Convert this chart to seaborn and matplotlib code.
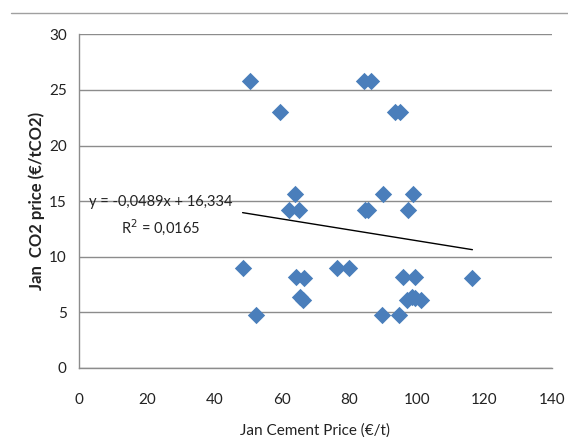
import numpy as np
import pandas as pd
import matplotlib.pyplot as plt
import matplotlib.lines as mlines
import seaborn as sns

# Datos
cement_price = [50.6, 59.4, 84.4, 86.5, 93.7, 95.0,
                64.0, 62.2, 65.2, 90.0, 98.8, 84.7, 85.7, 97.3,
                48.4, 76.5, 80.0, 64.3, 66.7, 95.9, 99.4, 116.5,
                65.4, 66.2, 52.3, 89.6, 94.6, 97.2, 98.5, 99.4, 101.2]
co2_price = [25.8, 23.0, 25.8, 25.8, 23.0, 23.0,
             15.6, 14.2, 14.2, 15.6, 15.6, 14.2, 14.2, 14.2,
             9.0, 9.0, 9.0, 8.2, 8.1, 8.2, 8.2, 8.1,
             6.4, 6.1, 4.8, 4.8, 4.8, 6.1, 6.4, 6.3, 6.1]

# Línea de tendencia (ecuación mostrada en el gráfico)
slope = -0.0489
intercept = 16.334
eq_label = "y = -0,0489x + 16,334"
r2_label = "R$^2$ = 0,0165"

x_ticks = [0, 20, 40, 60, 80, 100, 120, 140]
y_ticks = [0, 5, 10, 15, 20, 25, 30]

df = pd.DataFrame({'cement': cement_price, 'co2': co2_price})

sns.set_theme(style="white")
plt.rcParams['font.family'] = ['Lato', 'DejaVu Sans']

fig = plt.figure(figsize=(5.68, 4.37), dpi=100)
ax = fig.add_axes([0.1396, 0.1579, 0.8317, 0.7636])

sns.scatterplot(data=df, x='cement', y='co2', marker='D', s=78,
                color='#4a7ebb', edgecolor='#4a7ebb', linewidth=0, ax=ax, zorder=3)

xs = np.array([min(cement_price), max(cement_price)])
ax.plot(xs, slope * xs + intercept, color='black', lw=1, zorder=2)

ax.text(24, 14.9, eq_label, ha='center', va='center', fontsize=10.5, color='#222222')
ax.text(24, 12.7, r2_label, ha='center', va='center', fontsize=10.5, color='#222222')

ax.set_xlim(0, 140)
ax.set_ylim(0, 30)
ax.set_xticks(x_ticks)
ax.set_yticks(y_ticks)
ax.tick_params(axis='both', length=0, labelsize=11, labelcolor='#222222')
ax.tick_params(axis='x', pad=18)
ax.tick_params(axis='y', pad=9)
ax.yaxis.grid(True, color='#8c8c8c', lw=1)
ax.xaxis.grid(False)
for side in ['top', 'right']:
    ax.spines[side].set_visible(False)
for side in ['left', 'bottom']:
    ax.spines[side].set_color('#8c8c8c')
    ax.spines[side].set_linewidth(1)

ax.set_xlabel('Jan Cement Price (€/t)', fontsize=11, color='#222222', labelpad=12)
ax.set_ylabel('Jan  CO2 price (€/tCO2)', fontsize=12, fontweight='bold', color='#222222', labelpad=3)

# borde superior del gráfico
fig.add_artist(mlines.Line2D([0.02, 1.0], [0.97, 0.97], color='#a0a0a0', lw=1))

fig.savefig('out.png', dpi=100)
